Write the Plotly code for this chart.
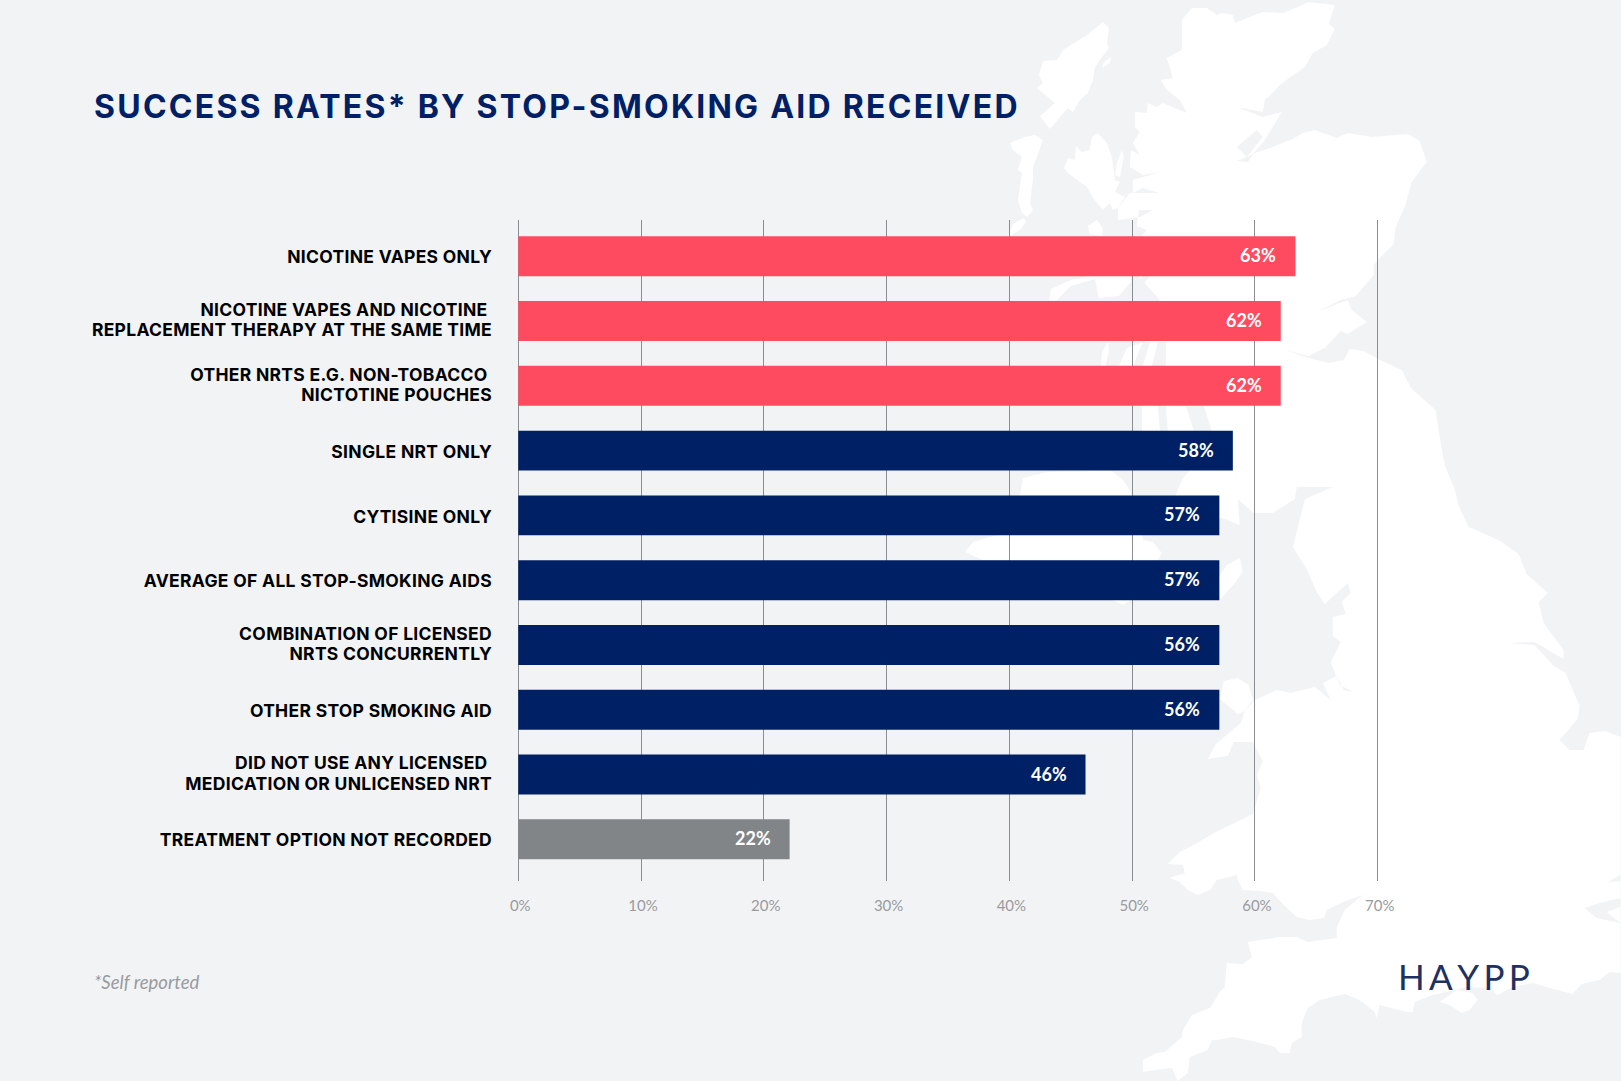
import plotly.graph_objects as go

# ---------- chart data ----------
categories = [
    "NICOTINE VAPES ONLY",
    "NICOTINE VAPES AND NICOTINE\u00a0<br>REPLACEMENT THERAPY AT THE SAME TIME",
    "OTHER NRTS E.G. NON-TOBACCO\u00a0<br>NICTOTINE POUCHES",
    "SINGLE NRT ONLY",
    "CYTISINE ONLY",
    "AVERAGE OF ALL STOP-SMOKING AIDS",
    "COMBINATION OF LICENSED<br>NRTS CONCURRENTLY",
    "OTHER STOP SMOKING AID",
    "DID NOT USE ANY LICENSED\u00a0<br>MEDICATION OR UNLICENSED NRT",
    "TREATMENT OPTION NOT RECORDED",
]
bar_lengths = [63.3, 62.1, 62.1, 58.2, 57.1, 57.1, 57.1, 57.1, 46.2, 22.1]
value_labels = ["63%", "62%", "62%", "58%", "57%", "57%", "56%", "56%", "46%", "22%"]
bar_colors = ["#FF4B5F"] * 3 + ["#002066"] * 6 + ["#818588"]
tick_values = [0, 10, 20, 30, 40, 50, 60, 70]
tick_labels = ["0%", "10%", "20%", "30%", "40%", "50%", "60%", "70%"]

W, H = 1621, 1081
PX_PER_UNIT = (1378 - 518) / 70
PAD_UNITS = 1
L, R = 518 - PAD_UNITS * PX_PER_UNIT, 1378 + PAD_UNITS * PX_PER_UNIT
T, B = 220, 881
BG = "#F2F3F5"
NAVY = "#002066"

# ---------- decorative background map outline, in page pixels ----------
land = [
    # Great Britain mainland
    [(1192,8),(1207,8),(1217,15),(1222,13),(1233,15),(1235,23),(1250,17),(1263,12),(1283,13),(1298,7),(1309,2),(1335,5),
     (1329,24),(1335,29),(1327,45),(1313,53),(1305,67),(1281,84),(1273,93),(1265,100),(1263,112),(1237,107),(1263,117),
     (1282,112),(1273,127),(1263,143),(1255,152),(1248,162),(1237,161),(1258,152),(1270,148),(1293,139),(1303,133),(1315,130),
     (1337,138),(1348,133),(1372,137),(1408,134),(1420,141),(1427,162),(1412,182),(1405,207),(1396,227),(1394,244),(1380,258),
     (1374,265),(1374,275),(1356,296),(1341,300),(1317,312),(1348,300),(1352,310),(1367,322),(1348,334),(1341,331),(1325,348),
     (1309,356),(1285,350),(1309,358),(1329,363),(1344,360),(1350,349),(1364,351),(1380,360),(1402,370),(1412,389),(1436,410),
     (1440,437),(1445,465),(1455,489),(1459,506),(1469,527),(1499,540),(1519,554),(1527,574),(1548,593),(1539,602),(1544,623),
     (1564,650),(1564,659),(1535,642),(1509,643),(1535,645),(1554,666),(1566,673),(1580,706),(1578,719),(1560,740),(1570,750),
     (1584,750),(1590,733),(1606,731),(1621,737),(1621,973),(1610,972),(1600,980),(1582,984),(1573,994),(1547,987),(1533,983),
     (1513,987),(1498,995),(1490,988),(1467,987),(1433,995),(1415,1002),(1413,1012),(1407,1012),(1380,1005),(1377,1018),
     (1375,1012),(1360,1000),(1345,994),(1320,1000),(1308,1008),(1302,1023),(1302,1037),(1292,1043),(1290,1053),(1280,1053),
     (1275,1047),(1257,1042),(1233,1037),(1217,1040),(1212,1040),(1208,1050),(1190,1057),(1188,1073),(1178,1081),(1172,1068),
     (1155,1070),(1143,1072),(1143,1060),(1157,1053),(1165,1052),(1182,1037),(1183,1030),(1192,1015),(1210,1008),(1220,992),
     (1225,987),(1227,963),(1243,964),(1252,957),(1248,942),(1280,937),(1297,937),(1308,942),(1337,938),(1337,927),(1345,910),
     (1363,895),(1343,902),(1327,910),(1324,918),(1310,920),(1297,917),(1282,903),(1273,893),(1260,891),(1243,890),(1238,880),
     (1237,875),(1217,880),(1210,890),(1198,895),(1188,890),(1180,882),(1170,878),(1185,873),(1183,865),(1168,864),(1180,852),
     (1194,845),(1214,833),(1237,822),(1253,814),(1261,788),(1257,775),(1263,761),(1253,742),(1234,742),(1228,756),(1208,759),
     (1216,744),(1241,723),(1245,711),(1255,700),(1277,690),(1291,693),(1315,687),(1331,700),(1323,683),(1337,676),(1344,690),
     (1354,692),(1340,685),(1331,662),(1341,642),(1333,636),(1333,617),(1346,614),(1342,602),(1351,593),(1348,583),(1325,604),
     (1317,592),(1307,569),(1293,547),(1295,540),(1305,499),(1333,487),(1297,487),(1295,499),(1273,513),(1254,513),(1238,499),
     (1240,525),(1222,518),(1185,520),(1176,495),(1182,480),(1190,470),(1165,470),(1142,430),(1142,406),(1148,385),(1119,366),
     (1127,348),(1145,342),(1160,300),(1140,278),(1130,250),(1147,230),(1137,226),(1139,210),(1153,210),(1140,217),(1118,220),
     (1118,208),(1130,193),(1160,193),(1143,188),(1133,193),(1133,180),(1160,172),(1143,175),(1130,167),(1131,150),(1140,155),
     (1133,143),(1140,132),(1135,127),(1135,112),(1147,113),(1148,103),(1157,107),(1163,103),(1187,113),(1180,100),(1167,90),
     (1161,80),(1173,78),(1167,58),(1182,50),(1182,20)],
    # Lewis and Harris
    [(1103,22),(1109,28),(1107,43),(1109,48),(1100,60),(1095,68),(1093,80),(1088,93),(1080,100),(1073,112),(1068,108),(1050,129),
     (1040,116),(1055,103),(1037,88),(1043,83),(1039,75),(1043,61),(1057,60),(1063,50),(1087,35)],
    [(1111,57),(1110,63),(1102,68),(1104,62)],
    # Uists
    [(1043,140),(1035,135),(1025,137),(1010,143),(1013,150),(1022,157),(1018,170),(1022,173),(1018,200),(1022,213),(1027,217),
     (1033,210),(1030,203),(1033,180),(1033,167),(1037,157)],
    [(1024,218),(1013,224),(1008,237),(1020,230),(1026,222)],
    # Skye
    [(1098,133),(1107,143),(1112,157),(1115,180),(1120,182),(1115,192),(1125,197),(1118,208),(1113,210),(1110,203),(1103,210),
     (1093,198),(1087,187),(1080,182),(1068,173),(1064,168),(1068,158),(1075,160),(1076,146),(1082,152),(1090,150),(1092,137)],
    [(1122,150),(1124,157),(1120,177),(1115,175),(1117,163)],
    # Small isles
    [(1097,220),(1103,228),(1102,236),(1090,234),(1088,226)],
    # Mull and neighbours
    [(1049,300),(1051,289),(1071,280),(1095,275),(1131,274),(1131,282),(1119,296),(1099,298),(1095,279),(1071,286),(1057,300)],
    # Northern Ireland
    [(1020,495),(1023,478),(1047,472),(1112,471),(1123,480),(1130,490),(1140,517),(1143,540),(1153,542),(1162,553),(1158,560),
     (1153,587),(1123,605),(1113,600),(1073,600),(1067,597),(1007,587),(1008,560),(983,560),(965,552),(973,542),(990,537),
     (1008,533),(1017,513)],
    # Isle of Man
    [(1240,558),(1243,572),(1235,583),(1220,600),(1219,577),(1227,565)],
    # Anglesey
    [(1224,681),(1238,678),(1249,685),(1253,700),(1245,711),(1238,714),(1220,699)],
    # Isle of Wight
    [(1440,1002),(1457,990),(1473,993),(1478,1000),(1470,1010),(1462,1013),(1450,1005)],
    # Islay / Jura slivers
    [(1101,366),(1102,352),(1108,342),(1109,350),(1106,366)],
]
water = [
    [(1119,300),(1143,276),(1150,276),(1130,300)],
    [(1133,366),(1143,342),(1150,342),(1143,366)],
    [(1152,366),(1158,342),(1166,342),(1166,366)],
    [(1158,406),(1166,406),(1168,431),(1160,431)],
    [(1186,406),(1204,406),(1212,431),(1194,431)],
    [(1237,147),(1257,130),(1263,137),(1247,157)],
    [(1585,908),(1600,903),(1621,898),(1621,907),(1607,912),(1621,923),(1597,918)],
    [(1608,882),(1621,875),(1621,881)],
]


def page_x(px):
    return (px - L) / (R - L)


def page_y(py):
    return 1 - (py - T) / (B - T)


def to_path(points):
    return "M" + "L".join(f"{page_x(x):.5f},{page_y(y):.5f}" for x, y in points) + "Z"


shapes = [
    dict(type="path", path=to_path(p), xref="paper", yref="paper", layer="below",
         fillcolor="#FFFFFF", line=dict(width=0))
    for p in land
] + [
    dict(type="path", path=to_path(p), xref="paper", yref="paper", layer="below",
         fillcolor=BG, line=dict(width=0))
    for p in water
]

fig = go.Figure(go.Bar(
    x=bar_lengths, y=categories, orientation="h",
    marker=dict(color=bar_colors, line=dict(width=0)),
    width=0.617, hoverinfo="skip",
))

annotations = [
    dict(x=v, y=c, xref="x", yref="y", text=t, showarrow=False, xanchor="right", xshift=-17,
         yshift=1, font=dict(family="Lato", size=18, color="#FFFFFF", weight=700))
    for v, c, t in zip(bar_lengths, categories, value_labels)
]
annotations += [
    dict(x=page_x(91), y=page_y(982), xref="paper", yref="paper", text="*Self reported", showarrow=False,
         xanchor="left", yanchor="middle", font=dict(family="Lato", size=18.5, color="#999B9E", style="italic")),
    dict(x=page_x(1396), y=page_y(976), xref="paper", yref="paper", text="H\u2009A\u2009Y\u2009P\u2009P", showarrow=False,
         xanchor="left", yanchor="middle", font=dict(family="Lato", size=35, color="#1F3160")),
]

fig.update_layout(
    width=W, height=H,
    margin=dict(l=L, r=W - R, t=T, b=H - B, autoexpand=False),
    paper_bgcolor=BG, plot_bgcolor="rgba(0,0,0,0)",
    showlegend=False, shapes=shapes, annotations=annotations,
    title=dict(text="SUCCESS RATES* BY STOP-SMOKING AID RECEIVED",
               x=94 / W, xref="container", xanchor="left", y=1 - 107 / H, yref="container", yanchor="middle",
               font=dict(family="Inter", size=32, color=NAVY, weight=700)),
    xaxis=dict(range=[-PAD_UNITS, 70 + PAD_UNITS], tickmode="array", tickvals=tick_values, ticktext=tick_labels,
               showgrid=True, gridcolor="#8A8E92", gridwidth=1, zeroline=False, showline=False,
               ticks="", ticklabelstandoff=14, ticklabelshift=2, automargin=False,
               tickfont=dict(family="Lato", size=15, color="#999B9E")),
    yaxis=dict(type="category", categoryorder="array", categoryarray=categories, range=[9.644, -0.56],
               showgrid=False, zeroline=False, showline=False, ticks="", ticklabelstandoff=13,
               automargin=False,
               tickfont=dict(family="Inter", size=17.5, color="#000000", weight=700)),
    bargap=0.383,
)

post = """
document.body.style.margin = '0';
document.body.style.overflow = 'hidden';
var t = document.querySelector('.gtitle');
if (t) { t.style.letterSpacing = '2.25px'; }
document.querySelectorAll('.ytick text').forEach(function (el) {
  el.style.letterSpacing = '0.3px';
  var lines = el.querySelectorAll('tspan.line');
  var shift = 1;
  if (lines.length === 2) {
    lines[1].setAttribute('dy', '20.3px');
    shift = 2.2;
  }
  el.setAttribute('y', parseFloat(el.getAttribute('y')) + shift);
});
"""
fig.write_html("out.html", post_script=post, config={"displayModeBar": False})
